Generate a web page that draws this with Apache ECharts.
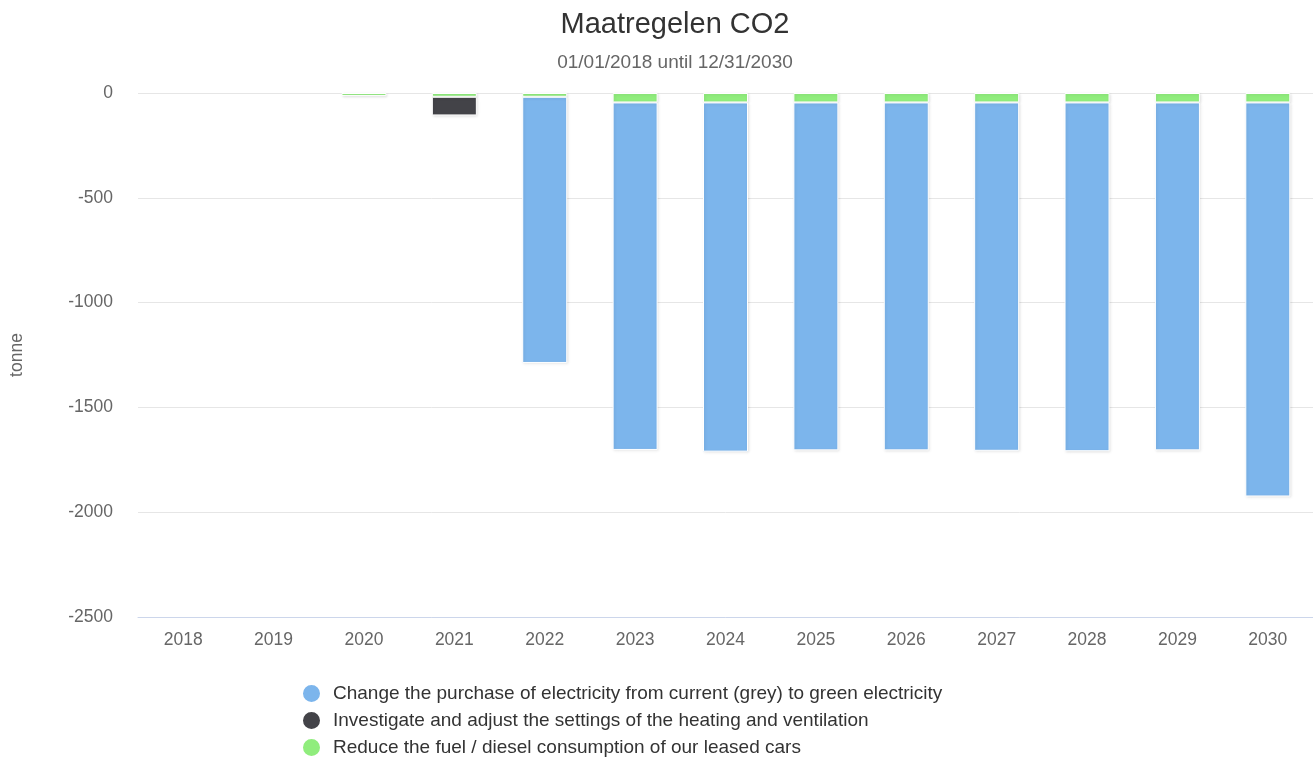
<!DOCTYPE html>
<html>
<head>
<meta charset="utf-8">
<script src="https://cdn.jsdelivr.net/npm/echarts@6/dist/echarts.min.js"></script>
<style>html,body{margin:0;padding:0;background:#fff}#c{width:1313px;height:757px}</style>
</head>
<body>
<div id="c"></div>
<script>
const categories = ['2018','2019','2020','2021','2022','2023','2024','2025','2026','2027','2028','2029','2030'];
const electricity = [null, null, null, null, -1270, -1658, -1666, -1660, -1660, -1662, -1664, -1660, -1880];
const heating = [null, null, null, -89, null, null, null, null, null, null, null, null, null];
const fuel = [null, null, -14, -18, -18, -45, -45, -45, -45, -45, -45, -45, -45];
const yTicks = [0, -500, -1000, -1500, -2000, -2500];

const names = [
  'Change the purchase of electricity from current (grey) to green electricity',
  'Investigate and adjust the settings of the heating and ventilation',
  'Reduce the fuel / diesel consumption of our leased cars'
];
const colors = ['#7cb5ec', '#434348', '#90ed7d'];
const FF = 'Liberation Sans, Arial, sans-serif';

const chart = echarts.init(document.getElementById('c'));
const barStyle = c => ({
  color: c, borderColor: '#ffffff', borderWidth: 1,
  shadowColor: 'rgba(0,0,0,0.12)', shadowBlur: 3, shadowOffsetX: 1, shadowOffsetY: 1
});
const mk = (i, data) => ({
  name: names[i], type: 'bar', stack: 'total', data: data, barWidth: 45,
  itemStyle: barStyle(colors[i]), emphasis: {disabled: true}
});
chart.setOption({
  animation: false,
  title: [
    {text: 'Maatregelen CO2', left: 670, textAlign: 'center', top: 5,
     textStyle: {fontFamily: FF, fontSize: 29, fontWeight: 'normal', color: '#333333'}},
    {text: '01/01/2018 until 12/31/2030', left: 670, textAlign: 'center', top: 48,
     textStyle: {fontFamily: FF, fontSize: 19, fontWeight: 'normal', color: '#666666'}}
  ],
  legend: {
    orient: 'vertical', left: 296, top: 678, height: 200, itemGap: 6,
    icon: 'circle', itemWidth: 19, itemHeight: 19,
    data: names,
    textStyle: {fontFamily: FF, fontSize: 19, lineHeight: 20, color: '#333333', padding: [0, 0, 0, 7]},
    selectedMode: false
  },
  grid: {left: 138, right: -4, top: 93, bottom: 140, containLabel: false},
  xAxis: {
    type: 'category', data: categories, position: 'bottom',
    axisLine: {onZero: false, lineStyle: {color: '#ccd6eb', width: 1}},
    axisTick: {show: false},
    axisLabel: {color: '#666666', fontSize: 17.5, margin: 14, fontFamily: FF}
  },
  yAxis: {
    type: 'value', min: yTicks[yTicks.length - 1], max: yTicks[0], interval: 500,
    name: 'tonne', nameLocation: 'middle', nameGap: 112, nameRotate: 90,
    nameTextStyle: {color: '#666666', fontSize: 17.5, fontFamily: FF},
    axisLine: {show: false}, axisTick: {show: false},
    splitLine: {lineStyle: {color: '#e6e6e6', width: 1}},
    axisLabel: {color: '#666666', fontSize: 17.5, margin: 25, fontFamily: FF,
      formatter: v => String(v)}
  },
  series: [mk(2, fuel), mk(1, heating), mk(0, electricity)]
});
</script>
</body>
</html>
